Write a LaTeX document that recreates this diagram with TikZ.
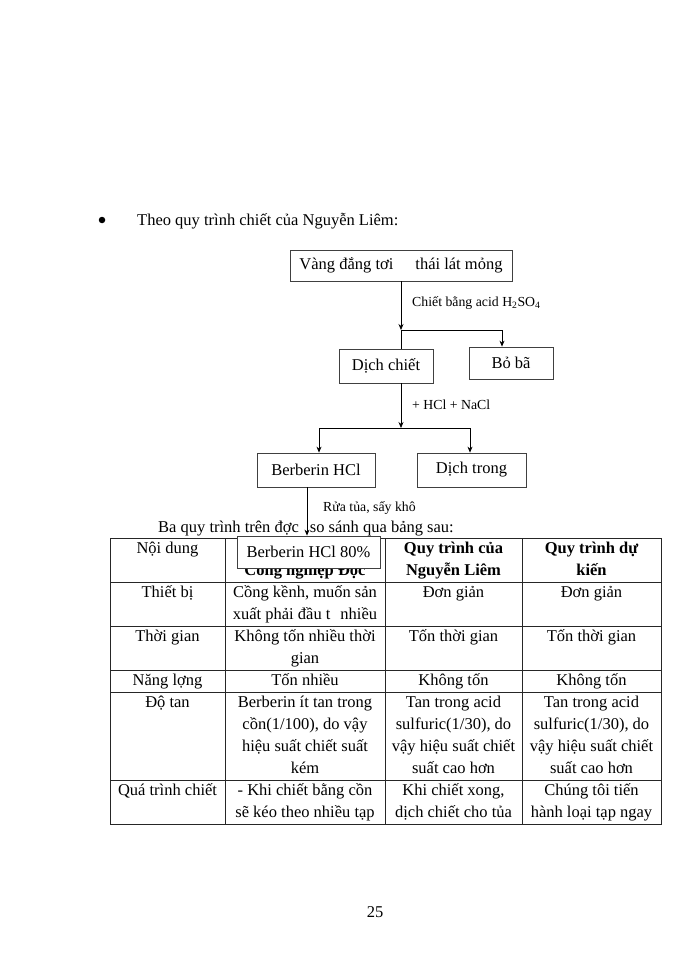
\documentclass[tikz,border=0pt]{standalone}
\usepackage{fontspec}
\setmainfont{Liberation Serif}
\usetikzlibrary{arrows.meta}
\begin{document}
\begin{tikzpicture}[x=1pt,y=-1pt,
  every node/.style={font=\fontsize{16.5}{22}\selectfont, inner sep=0pt},
  box/.style={draw=black!75, line width=0.8pt, fill=white},
  lbl/.style={font=\fontsize{13.8}{16}\selectfont, anchor=base west},
  txt/.style={anchor=base west},
  arr/.style={-{Stealth[length=6pt,width=5pt]}, line width=0.7pt},
  ln/.style={line width=0.7pt},
  cell/.style={anchor=north, align=center},
  hd/.style={anchor=north, align=center, font=\fontsize{16.5}{22}\selectfont\bfseries},
  grid/.style={line width=0.8pt, draw=black!85}]
\useasboundingbox (0,0) rectangle (700,960);

% heading
\node[circle, fill=black, minimum size=6.5pt] (bul) at (102,220) {};
\node[txt] (title) at (137,225) {Theo quy trình chiết của Nguyễn Liêm:};

% flow boxes
\node[box, minimum width=222pt, minimum height=31pt] (b1) at (401,265.5) {Vàng đắng tơi\hspace{22pt}thái lát mỏng};
\node[box, minimum width=94pt, minimum height=34pt] (dich) at (386,366) {Dịch chiết};
\node[box, minimum width=84pt, minimum height=32pt] (bo) at (511,363) {Bỏ bã};
\node[box, minimum width=118pt, minimum height=34pt] (berb) at (316,470) {Berberin HCl};
\node[box, minimum width=109pt, minimum height=34pt] (trong) at (471.5,470) {Dịch trong};

% connectors
\coordinate (j1) at (401,330);
\coordinate (j2) at (401,428);
\draw[arr] (b1.south) -- (j1);
\draw[ln] (j1) -- (j1 |- dich.north);
\draw[arr] (j1) -| (502,0 |- bo.north);
\node[lbl] (l1) at (412,306) {Chiết bằng acid H\textsubscript{2}SO\textsubscript{4}};

\draw[arr] (j1 |- dich.south) -- (j2);
\draw[arr] (j2) -| (319,0 |- berb.north);
\draw[arr] (j2) -| (470,0 |- trong.north);
\node[lbl] (l2) at (412,409) {+ HCl + NaCl};

\node[lbl] (l3) at (323,511) {Rửa tủa, sấy khô};
\node[txt] (para) at (158,532) {Ba quy trình trên đợc\hspace{11pt}so sánh qua bảng sau:};

% table
\draw[grid] (110,538) rectangle (661,824);
\foreach \yy in {582,626,670,692,780} \draw[grid] (110,\yy) -- (661,\yy);
\foreach \xx in {225,385,522} \draw[grid] (\xx,538) -- (\xx,824);

% header row
\node[cell] (h1) at (167.5,538) {\rule{0pt}{15pt}Nội dung};
\node[anchor=base, font=\fontsize{16.5}{22}\selectfont\bfseries] (h2) at (305,575) {Công nghiệp Đọc};
\node[hd] (h3) at (453.5,538) {\rule{0pt}{15pt}Quy trình của\\Nguyễn Liêm};
\node[hd] (h4) at (591.5,538) {\rule{0pt}{15pt}Quy trình dự\\kiến};

% row Thiết bị
\node[cell] (r1a) at (167.5,582) {\rule{0pt}{15pt}Thiết bị};
\node[cell] (r1b) at (305,582) {\rule{0pt}{15pt}Cồng kềnh, muốn sản\\xuất phải đầu t\hspace{10pt}nhiều};
\node[cell] (r1c) at (453.5,582) {\rule{0pt}{15pt}Đơn giản};
\node[cell] (r1d) at (591.5,582) {\rule{0pt}{15pt}Đơn giản};

% row Thời gian
\node[cell] (r2a) at (167.5,626) {\rule{0pt}{15pt}Thời gian};
\node[cell] (r2b) at (305,626) {\rule{0pt}{15pt}Không tốn nhiều thời\\gian};
\node[cell] (r2c) at (453.5,626) {\rule{0pt}{15pt}Tốn thời gian};
\node[cell] (r2d) at (591.5,626) {\rule{0pt}{15pt}Tốn thời gian};

% row Năng lợng
\node[cell] (r3a) at (167.5,670) {\rule{0pt}{15pt}Năng lợng};
\node[cell] (r3b) at (305,670) {\rule{0pt}{15pt}Tốn nhiều};
\node[cell] (r3c) at (453.5,670) {\rule{0pt}{15pt}Không tốn};
\node[cell] (r3d) at (591.5,670) {\rule{0pt}{15pt}Không tốn};

% row Độ tan
\node[cell] (r4a) at (167.5,692) {\rule{0pt}{15pt}Độ tan};
\node[cell] (r4b) at (305,692) {\rule{0pt}{15pt}Berberin ít tan trong\\cồn(1/100), do vậy\\hiệu suất chiết suất\\kém};
\node[cell] (r4c) at (453.5,692) {\rule{0pt}{15pt}Tan trong acid\\sulfuric(1/30), do\\vậy hiệu suất chiết\\suất cao hơn};
\node[cell] (r4d) at (591.5,692) {\rule{0pt}{15pt}Tan trong acid\\sulfuric(1/30), do\\vậy hiệu suất chiết\\suất cao hơn};

% row Quá trình chiết
\node[cell] (r5a) at (167.5,780) {\rule{0pt}{15pt}Quá trình chiết};
\node[cell] (r5b) at (305,780) {\rule{0pt}{15pt}- Khi chiết bằng cồn\\sẽ kéo theo nhiều tạp};
\node[cell] (r5c) at (453.5,780) {\rule{0pt}{15pt}Khi chiết xong,\\dịch chiết cho tủa};
\node[cell] (r5d) at (591.5,780) {\rule{0pt}{15pt}Chúng tôi tiến\\hành loại tạp ngay};

% overlapping box
\node[box, minimum width=143pt, minimum height=32pt] (b80) at (308.5,552) {Berberin HCl 80\%};
\draw[arr] (307,0 |- berb.south) -- (307,0 |- b80.north);

% page number
\node (pg) at (375,912) {25};
\end{tikzpicture}
\end{document}
